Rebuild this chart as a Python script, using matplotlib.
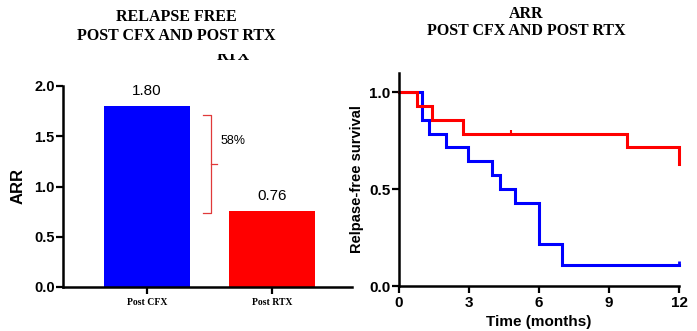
import matplotlib.pyplot as plt
from matplotlib.patches import Rectangle

# bar panel data
groups = ["Post CFX", "Post RTX"]
arr_values = [1.80, 0.76]
bar_colors = ["#0000ff", "#ff0000"]

# Kaplan-Meier style curves (step after each time)
red_times = [0, 0.76, 1.41, 2.75, 9.79, 12]
red_surv = [1.0, 0.929, 0.857, 0.786, 0.714, 0.627]
red_censor_t = [4.82]
red_censor_s = [0.786]

blue_times = [0, 0.97, 1.30, 2.0, 2.97, 4.0, 4.32, 4.98, 5.99, 6.98, 12]
blue_surv = [1.0, 0.857, 0.786, 0.714, 0.643, 0.571, 0.5, 0.429, 0.214, 0.107, 0.107]
blue_censor_t = [12]
blue_censor_s = [0.107]

sans = "Liberation Sans"
serif = "Liberation Serif"

W, H = 697, 331
fig = plt.figure(figsize=(W / 100, H / 100), dpi=100)


def fx(px):
    return px / W


def fy(py):
    return 1 - py / H


# ---- left: bar chart ----
ax1 = fig.add_axes([fx(63), fy(287), fx(289), (287 - 86) / H])
xpos = list(range(len(groups)))
ax1.bar(xpos, arr_values, width=0.69, color=bar_colors)
for x, v in zip(xpos, arr_values):
    ax1.text(x, v + 0.08, "%.2f" % v, ha="center", va="bottom",
             fontsize=11, family=sans)

# bracket showing the relative reduction
top = arr_values[0] - 0.09
bot = arr_values[1] - 0.02
mid = (top + bot) / 2
bx = 0.51
bc = "#e03a3a"
ax1.plot([bx - 0.06, bx, bx, bx - 0.06], [top, top, bot, bot], color=bc, lw=0.9)
ax1.plot([bx, bx + 0.05], [mid, mid], color=bc, lw=0.9)
pct = round((arr_values[0] - arr_values[1]) / arr_values[0] * 100)
ax1.text(bx + 0.08, top - 0.26, "%d%%" % pct, fontsize=9, family=sans, va="center")

ax1.set_xlim(-0.672, 1.64)
ax1.set_ylim(0, 2.0)
ax1.set_yticks([0, 0.5, 1.0, 1.5, 2.0])
ax1.set_yticklabels(["0.0", "0.5", "1.0", "1.5", "2.0"])
ax1.set_xticks(xpos)
ax1.set_xticklabels(groups, family=serif, fontweight="bold", fontsize=7)
ax1.set_ylabel("ARR", family=sans, fontweight="bold", fontsize=12, labelpad=6)

# ---- right: survival curves ----
ax2 = fig.add_axes([fx(399), fy(286), fx(280), (286 - 73) / H])
ax2.step(blue_times, blue_surv, where="post", color="#0000ff", lw=2.2,
         solid_joinstyle="miter", clip_on=False)
ax2.step(red_times, red_surv, where="post", color="#ff0000", lw=2.2,
         solid_joinstyle="miter", clip_on=False)
ax2.vlines(blue_censor_t, blue_censor_s, [s + 0.02 for s in blue_censor_s],
           color="#0000ff", lw=2, clip_on=False)
ax2.vlines(red_censor_t, red_censor_s, [s + 0.02 for s in red_censor_s],
           color="#ff0000", lw=1.5, clip_on=False)
ax2.set_xlim(0, 12)
ax2.set_ylim(0, 1.098)
ax2.set_xticks([0, 3, 6, 9, 12])
ax2.set_yticks([0, 0.5, 1.0])
ax2.set_yticklabels(["0.0", "0.5", "1.0"])
ax2.set_xlabel("Time (months)", family=sans, fontweight="bold", fontsize=11, labelpad=4)
ax2.set_ylabel("Relpase-free survival", family=sans, fontweight="bold",
               fontsize=10.5, labelpad=4)

for ax in (ax1, ax2):
    for s in ("top", "right"):
        ax.spines[s].set_visible(False)
    for s in ("left", "bottom"):
        ax.spines[s].set_linewidth(1.8)
    ax.tick_params(width=1.6, length=5, pad=1)
for lab in ax1.get_yticklabels():
    lab.set_family(sans)
    lab.set_fontweight("bold")
    lab.set_fontsize(10.5)
ax1.tick_params(axis="x", pad=3)
ax2.tick_params(axis="x", pad=2)
for lab in ax2.get_xticklabels() + ax2.get_yticklabels():
    lab.set_family(sans)
    lab.set_fontweight("bold")
    lab.set_fontsize(11)

# titles
fig.text(fx(176), fy(17), "RELAPSE FREE", ha="center", va="center",
         family=serif, fontweight="bold", fontsize=11.5)
fig.text(fx(176), fy(36), "POST CFX AND POST RTX", ha="center", va="center",
         family=serif, fontweight="bold", fontsize=11.5)
fig.text(fx(526), fy(14), "ARR", ha="center", va="center",
         family=serif, fontweight="bold", fontsize=11.5)
fig.text(fx(526), fy(31), "POST CFX AND POST RTX", ha="center", va="center",
         family=serif, fontweight="bold", fontsize=11.5)

# partly hidden leftover text under the left title
fig.text(fx(233), fy(60), "RTX", ha="center", va="baseline",
         family=serif, fontweight="bold", fontsize=11.5, zorder=2)
fig.patches.append(Rectangle((fx(200), fy(54)), fx(70), 8 / H,
                             transform=fig.transFigure, facecolor="white",
                             edgecolor="none", zorder=10))

fig.savefig("out.png", dpi=100)
